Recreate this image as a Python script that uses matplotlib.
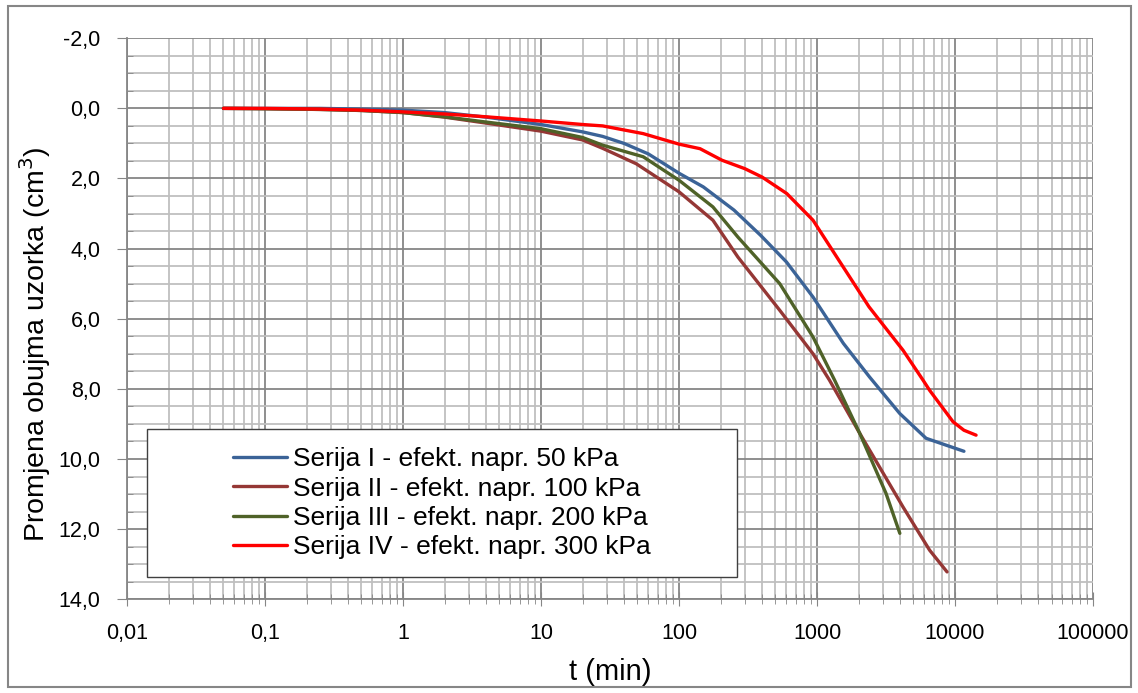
import numpy as np
import matplotlib.pyplot as plt
from matplotlib.patches import Rectangle
from matplotlib.ticker import FixedLocator, FuncFormatter, NullFormatter

plt.rcParams['font.family'] = ['Liberation Sans', 'DejaVu Sans']

# --- Donnees ---
t_1 = [0.05, 0.1, 0.25, 0.5, 1, 2, 4, 10, 20, 28, 40, 60, 100, 150, 250,
       390, 600, 935, 1550, 2400, 3970, 6170, 11600]
v_1 = [0.0, 0.0, 0.0, 0.02, 0.05, 0.12, 0.25, 0.46, 0.67, 0.8, 1.0, 1.3,
       1.85, 2.24, 2.9, 3.62, 4.38, 5.38, 6.7, 7.66, 8.7, 9.41, 9.78]

t_2 = [0.05, 0.1, 0.25, 0.5, 1, 2, 4, 10, 20, 28, 49, 100, 176, 267, 537,
       935, 1230, 2040, 4200, 6540, 8750]
v_2 = [0.0, 0.01, 0.03, 0.06, 0.12, 0.25, 0.42, 0.65, 0.9, 1.14, 1.58, 2.38,
       3.19, 4.24, 5.76, 7.0, 7.75, 9.27, 11.37, 12.6, 13.22]

t_3 = [0.05, 0.1, 0.25, 0.5, 1, 2, 4, 10, 20, 28, 55, 100, 176, 267, 537,
       935, 1340, 2040, 3160, 3980]
v_3 = [0.0, 0.01, 0.03, 0.06, 0.12, 0.24, 0.39, 0.58, 0.83, 1.05, 1.38, 2.05,
       2.81, 3.67, 5.0, 6.52, 7.75, 9.27, 10.98, 12.12]

t_4 = [0.05, 0.1, 0.25, 0.5, 1, 2, 4, 10, 20, 28, 55, 100, 142, 205, 300,
       400, 604, 935, 1390, 2380, 4200, 5860, 6540, 9680, 11600, 14200]
v_4 = [0.0, 0.0, 0.02, 0.05, 0.1, 0.16, 0.24, 0.36, 0.46, 0.5, 0.72, 1.02,
       1.15, 1.48, 1.72, 1.96, 2.43, 3.19, 4.24, 5.66, 6.9, 7.75, 8.04, 8.94,
       9.18, 9.32]

series = [
    (t_1, v_1, "Serija I - efekt. napr. 50 kPa", "#3B6397"),
    (t_2, v_2, "Serija II - efekt. napr. 100 kPa", "#953735"),
    (t_3, v_3, "Serija III - efekt. napr. 200 kPa", "#4F6228"),
    (t_4, v_4, "Serija IV - efekt. napr. 300 kPa", "#FF0000"),
]

x_ticks = [0.01, 0.1, 1, 10, 100, 1000, 10000, 100000]
x_labels = ["0,01", "0,1", "1", "10", "100", "1000", "10000", "100000"]
y_ticks = [-2, 0, 2, 4, 6, 8, 10, 12, 14]

# ----------------------------------------------------------------------
fig = plt.figure(figsize=(11.38, 6.93), dpi=100)
fig.patches.append(Rectangle((0.007, 0.009), 0.987, 0.982, transform=fig.transFigure,
                             fill=False, edgecolor="#868686", lw=1.5))
ax = fig.add_axes([0.1116, 0.1353, 0.8489, 0.8095])

for t, v, lab, col in series:
    ax.plot(t, v, color=col, lw=2.4, label=lab, solid_capstyle="round")

ax.set_xscale("log")
ax.set_xlim(0.01, 100000)
ax.set_ylim(14, -2)

ax.xaxis.set_major_locator(FixedLocator(x_ticks))
ax.xaxis.set_major_formatter(FuncFormatter(
    lambda val, pos: x_labels[pos] if pos is not None and pos < len(x_labels) else ""))
minor_x = [m * 10.0 ** e for e in range(-2, 5) for m in range(2, 10)]
ax.xaxis.set_minor_locator(FixedLocator(minor_x))
ax.xaxis.set_minor_formatter(NullFormatter())

ax.yaxis.set_major_locator(FixedLocator(y_ticks))
ax.yaxis.set_major_formatter(FuncFormatter(
    lambda val, pos: f"{val:.1f}".replace(".", ",")))
ax.yaxis.set_minor_locator(FixedLocator(np.arange(-2, 14.01, 0.5)))

ax.grid(which="major", color="#868686", lw=1.3)
ax.grid(which="minor", color="#BFBFBF", lw=1.3)
ax.set_axisbelow(True)
for side in ["top", "right"]:
    ax.spines[side].set_visible(False)
for side in ["left", "bottom"]:
    ax.spines[side].set_color("#868686")
    ax.spines[side].set_linewidth(1.3)
ax.tick_params(which="both", color="#868686", labelsize=15.5)
ax.tick_params(axis="x", which="major", direction="inout", length=10, pad=12)
ax.tick_params(axis="x", which="minor", direction="inout", length=7)
ax.tick_params(axis="y", which="major", direction="out", length=7, pad=12)
ax.tick_params(axis="y", which="minor", direction="in", length=4)

ax.set_xlabel("t (min)", fontsize=21, labelpad=10)
ax.set_ylabel("Promjena obujma uzorka (cm$^3$)", fontsize=20.5)
ax.yaxis.set_label_coords(-0.077, 0.455)

# cadre de legende (centre comme dans Excel)
ax.add_patch(Rectangle((0.0207, 0.0392), 0.611, 0.2638, transform=ax.transAxes,
                       facecolor="white", edgecolor="#404040", lw=1.0, zorder=4))
leg = ax.legend(loc="center", bbox_to_anchor=(0.326, 0.171), fontsize=19,
                frameon=False, handlelength=2.05, handletextpad=0.2,
                labelspacing=0.2, borderpad=0)
leg.set_zorder(5)

fig.savefig("out.png", dpi=100)
